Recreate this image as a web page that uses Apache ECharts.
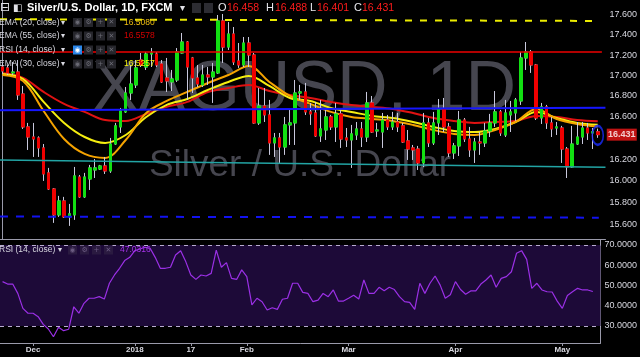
<!DOCTYPE html>
<html><head><meta charset="utf-8">
<script src="https://cdn.jsdelivr.net/npm/echarts@6/dist/echarts.min.js"></script>
<style>html,body{margin:0;padding:0;background:#000;}#c{width:640px;height:357px;}</style>
</head><body><div id="c"></div>
<script>
// ---------- data ----------
const dates = ['2017-11-23','2017-11-24','2017-11-27','2017-11-28','2017-11-29','2017-11-30',
'2017-12-01','2017-12-04','2017-12-05','2017-12-06','2017-12-07','2017-12-08','2017-12-11','2017-12-12','2017-12-13','2017-12-14','2017-12-15',
'2017-12-18','2017-12-19','2017-12-20','2017-12-21','2017-12-22','2017-12-26','2017-12-27','2017-12-28','2017-12-29',
'2018-01-02','2018-01-03','2018-01-04','2018-01-05','2018-01-08','2018-01-09','2018-01-10','2018-01-11','2018-01-12',
'2018-01-15','2018-01-16','2018-01-17','2018-01-18','2018-01-19','2018-01-22','2018-01-23','2018-01-24','2018-01-25','2018-01-26',
'2018-01-29','2018-01-30','2018-01-31','2018-02-01','2018-02-02','2018-02-05','2018-02-06','2018-02-07','2018-02-08','2018-02-09',
'2018-02-12','2018-02-13','2018-02-14','2018-02-15','2018-02-16','2018-02-19','2018-02-20','2018-02-21','2018-02-22','2018-02-23',
'2018-02-26','2018-02-27','2018-02-28','2018-03-01','2018-03-02','2018-03-05','2018-03-06','2018-03-07','2018-03-08','2018-03-09',
'2018-03-12','2018-03-13','2018-03-14','2018-03-15','2018-03-16','2018-03-19','2018-03-20','2018-03-21','2018-03-22','2018-03-23',
'2018-03-26','2018-03-27','2018-03-28','2018-03-29','2018-04-02','2018-04-03','2018-04-04','2018-04-05','2018-04-06',
'2018-04-09','2018-04-10','2018-04-11','2018-04-12','2018-04-13','2018-04-16','2018-04-17','2018-04-18','2018-04-19','2018-04-20',
'2018-04-23','2018-04-24','2018-04-25','2018-04-26','2018-04-27','2018-04-30','2018-05-01','2018-05-02','2018-05-03','2018-05-04',
'2018-05-07','2018-05-08','2018-05-09'];

const opens = [17.082,17.073,17.024,17.033,16.819,16.504,16.409,16.400,16.306,16.074,
15.926,15.691,15.817,15.673,15.691,16.036,15.854,16.018,16.101,16.110,
16.138,16.092,16.343,16.504,16.647,16.829,16.907,17.151,17.082,17.210,
17.210,17.112,16.975,16.936,16.955,17.220,17.329,17.171,16.975,16.907,
17.004,16.985,17.024,17.540,17.279,17.409,17.141,17.102,17.319,17.200,
16.542,16.704,16.618,16.353,16.400,16.315,16.523,16.542,16.829,16.839,
16.647,16.637,16.419,16.475,16.599,16.504,16.628,16.400,16.381,16.428,
16.485,16.409,16.733,16.466,16.456,16.570,16.504,16.551,16.514,16.372,
16.306,16.296,16.166,16.542,16.353,16.542,16.676,16.504,16.259,16.325,
16.570,16.390,16.287,16.362,16.353,16.466,16.542,16.647,16.428,16.618,
16.637,16.752,17.171,17.230,17.102,16.589,16.695,16.542,16.494,16.494,
16.296,16.129,16.343,16.409,16.494,16.447,16.458];

const highs = [17.122,17.102,17.131,17.151,16.897,16.542,16.542,16.415,16.343,16.120,
15.935,15.863,15.854,15.790,16.129,16.055,16.074,16.148,16.203,16.148,
16.222,16.400,16.542,16.685,16.887,17.102,17.151,17.220,17.230,17.269,
17.230,17.151,17.171,17.053,17.269,17.419,17.339,17.181,17.102,17.102,
17.082,17.122,17.600,17.610,17.529,17.479,17.319,17.379,17.379,17.220,
16.877,16.877,16.762,16.447,16.447,16.599,16.666,16.955,16.907,16.926,
16.733,16.743,16.762,16.666,16.618,16.733,16.666,16.494,16.523,16.551,
16.551,16.839,16.800,16.542,16.637,16.618,16.647,16.637,16.542,16.475,
16.334,16.325,16.637,16.589,16.647,16.771,16.781,16.542,16.353,16.656,
16.589,16.504,16.400,16.456,16.542,16.628,16.848,16.666,16.762,16.752,
16.781,17.230,17.329,17.250,17.112,16.733,16.714,16.599,16.551,16.514,
16.315,16.514,16.551,16.551,16.542,16.494,16.488];

const lows = [17.014,17.004,17.004,16.762,16.485,16.287,16.222,16.222,16.000,15.917,
15.619,15.673,15.664,15.592,15.646,15.845,15.845,15.917,16.027,16.101,
16.064,16.074,16.334,16.447,16.637,16.762,16.877,17.082,17.053,17.082,
17.082,16.926,16.839,16.848,16.936,17.215,16.762,16.829,16.887,16.887,
16.907,16.733,17.014,17.122,17.250,17.102,17.073,17.082,17.082,16.535,
16.523,16.551,16.241,16.222,16.166,16.241,16.334,16.334,16.762,16.618,
16.523,16.409,16.362,16.381,16.475,16.362,16.306,16.315,16.120,16.381,
16.315,16.362,16.447,16.409,16.306,16.475,16.475,16.456,16.353,16.194,
16.194,16.101,16.129,16.315,16.334,16.428,16.456,16.222,16.203,16.231,
16.362,16.222,16.166,16.241,16.315,16.409,16.504,16.419,16.409,16.456,
16.561,16.714,17.053,17.024,16.570,16.532,16.485,16.409,16.428,16.166,
16.027,16.120,16.334,16.343,16.381,16.296,16.401];

const closes = [17.043,17.024,17.033,16.810,16.504,16.409,16.390,16.306,16.064,15.926,
15.691,15.817,15.673,15.700,16.046,15.854,16.036,16.120,16.120,16.138,
16.092,16.343,16.514,16.656,16.829,16.916,17.073,17.102,17.210,17.220,
17.102,16.936,16.946,16.965,17.230,17.329,17.082,16.975,16.916,17.004,
16.985,17.033,17.540,17.279,17.409,17.131,17.102,17.319,17.200,16.542,
16.704,16.618,16.353,16.400,16.315,16.523,16.542,16.829,16.839,16.647,
16.628,16.419,16.485,16.599,16.504,16.628,16.390,16.381,16.438,16.485,
16.409,16.733,16.456,16.475,16.570,16.504,16.551,16.504,16.362,16.296,
16.287,16.166,16.542,16.353,16.542,16.676,16.504,16.259,16.325,16.570,
16.390,16.287,16.362,16.353,16.466,16.542,16.647,16.447,16.637,16.647,
16.762,17.171,17.230,17.102,16.589,16.695,16.542,16.485,16.504,16.296,
16.129,16.343,16.409,16.494,16.447,16.458,16.431];

const rsi = [51.9,50.7,50.7,46.1,38.7,36.3,36.3,34.6,30.8,28.5,
24.7,29.4,27.7,28.4,39.5,36.3,41.2,43.7,43.7,44.5,
43.3,51.1,55.2,58.5,62.3,63.9,67.2,68.0,68.9,68.4,
63.9,58.5,58.5,59.0,65.1,67.2,61.8,55.2,53.0,55.2,
54.7,56.0,67.5,59.0,61.3,53.5,53.0,57.7,54.4,40.4,
43.7,42.0,37.9,39.0,38.2,43.2,43.7,51.1,51.1,46.6,
46.1,42.0,42.8,46.1,44.5,47.8,42.3,42.3,43.7,45.2,
43.3,52.7,46.1,46.1,49.1,47.4,49.1,48.0,44.5,42.0,
41.7,38.2,51.1,46.1,51.1,54.7,50.2,43.7,45.4,51.9,
48.0,45.7,47.3,47.3,50.7,52.7,55.2,49.1,53.5,54.4,
56.8,65.9,67.2,62.9,48.6,51.1,47.8,46.9,46.8,42.3,
38.7,45.1,46.9,48.6,47.8,47.8,47.0316];

// EMA readings (sampled every 4 bars)
const emaIdx = [0,4,8,12,16,20,24,28,32,36,40,44,48,52,56,60,64,68,72,76,80,84,88,92,96,100,104,108,112,116];
const ema20 = [17.004,16.946,16.656,16.390,16.250,16.213,16.381,16.637,16.752,16.839,16.926,17.004,17.092,16.936,16.800,16.724,16.647,16.599,16.580,16.561,16.523,16.475,16.438,16.428,16.475,16.551,16.676,16.580,16.532,16.5080];
const ema30 = [17.014,16.965,16.743,16.542,16.409,16.353,16.428,16.599,16.714,16.771,16.858,16.936,16.995,16.897,16.781,16.752,16.685,16.647,16.609,16.589,16.551,16.504,16.466,16.456,16.485,16.551,16.647,16.589,16.542,16.5257];
const ema55 = [17.024,16.975,16.839,16.724,16.647,16.570,16.561,16.628,16.695,16.743,16.839,16.877,16.907,16.848,16.810,16.781,16.743,16.714,16.695,16.676,16.637,16.589,16.561,16.542,16.551,16.561,16.609,16.599,16.570,16.5578];

// drawn levels: [bar position start, end] and [price start, end]
const yellowDashX = [-0.5, 116.2], yellowDashY = [17.557, 17.540];
const redLevelX = [-0.5, 116.8],   redLevelY = [17.230, 17.230];
const blueLevelX = [-0.5, 117.5],  blueLevelY = [16.663, 16.688];
const tealLevelX = [-0.5, 117.5],  tealLevelY = [16.194, 16.127];
const blueDashX = [-0.5, 116.2],   blueDashY = [15.676, 15.666];
const circleMark = [116, 16.424];

const priceTicks = [15.6,15.8,16.0,16.2,16.6,16.8,17.0,17.2,17.4,17.6];
const rsiTicks = [30,40,50,60,70];
const tickDates = ['2017-12-01','2018-01-02','2018-01-17','2018-02-01','2018-03-01','2018-04-02','2018-05-01'];
const tickLabels = ['Dec','2018','17','Feb','Mar','Apr','May'];

// ---------- chart ----------
const L = Math.log;
const N = dates.length;
const FF = '"Liberation Sans", Arial, sans-serif';
const AX = '#9a9aaa';
const UP = '#12e012', DOWN = '#f00000', WICK = '#c8c8dc';
const last = N - 1;

const chart = echarts.init(document.getElementById('c'), null, {renderer:'canvas', width:640, height:357});

const wickData = dates.map((d,i)=>[L(opens[i]), L(closes[i]), L(lows[i]), L(highs[i])]);
const bodyData = dates.map((d,i)=>[L(opens[i]), L(closes[i]), L(Math.min(opens[i],closes[i])), L(Math.max(opens[i],closes[i]))]);
const emaSeries = (vals, color) => ({
  type:'line', xAxisIndex:2, yAxisIndex:0, z:2, silent:true, showSymbol:false, smooth:0.35,
  data: emaIdx.map((x,k)=>[x, L(vals[k])]), lineStyle:{color, width:2}
});
const levelSeries = (xs, ys, color, width, type) => ({
  type:'line', xAxisIndex:2, yAxisIndex:0, z:5, silent:true, showSymbol:false,
  data: xs.map((x,k)=>[x, L(ys[k])]), lineStyle:{color, width, type}
});
const tickFn = (i, v) => tickDates.indexOf(v) >= 0;

// legend graphics
const T = (x, y, text, fill, font, extra) => Object.assign({type:'text', x, y, z:100, silent:true,
  style:{text, fill, font, verticalAlign:'middle'}}, extra || {});
const R = (x, y, w, h, fill) => ({type:'rect', z:100, silent:true, shape:{x, y, width:w, height:h}, style:{fill}});
const SF = '8.5px ' + FF;
const g = [];
// watermark
g.push({type:'text', x:304, y:91, z:-1, silent:true, style:{text:'XAGUSD, 1D', fill:'#46464f', font:'70px ' + FF, align:'center', verticalAlign:'middle'}});
g.push({type:'text', x:300, y:165.5, z:-1, silent:true, style:{text:'Silver / U.S. Dollar', fill:'#46464f', font:'37px ' + FF, align:'center', verticalAlign:'middle'}});
// header row
g.push(T(0, 8, '⊟', '#e0e0e6', '12px "DejaVu Sans"'));
g.push(T(13, 8, '◧', '#e0e0e6', '10px "DejaVu Sans"'));
g.push(T(27, 8, 'Silver/U.S. Dollar, 1D, FXCM', '#ffffff', 'bold 11px ' + FF));
g.push(T(180, 8, '▾', '#e0e0e6', '10px "DejaVu Sans"'));
g.push(R(192, 3, 9, 10, '#2c2c32'), R(204, 3, 9, 10, '#2c2c32'));
const ohlc = [['O', opens[last], 218, 227], ['H', highs[last], 266, 275], ['L', lows[last], 310, 317], ['C', closes[last], 354, 362]];
ohlc.forEach(([k, v, xk, xv]) => { g.push(T(xk, 8, k, '#e8e8ee', '11px ' + FF)); g.push(T(xv, 8, v.toFixed(3), '#ff1c1c', '10.5px ' + FF)); });
// indicator rows
const rows = [['EMA (20, close)', ema20[ema20.length-1].toFixed(4), '#efbf10', 22.5],
              ['EMA (55, close)', ema55[ema55.length-1].toFixed(4), '#d40000', 36],
              ['RSI (14, close)', '', '', 50],
              ['EMA (30, close)', ema30[ema30.length-1].toFixed(4), '#f2f20a', 64]];
const icons = (y, firstBlue) => {
  [73, 84, 96, 107].forEach((x, k) => {
    g.push(R(x, y - 4.5, 9, 9, (firstBlue && k === 0) ? '#2b86e8' : '#26262c'));
    g.push(T(x + 1.5, y, ['◉','⚙','+','✕'][k], (firstBlue && k === 0) ? '#ffffff' : '#6a6a74', '7px "DejaVu Sans"'));
  });
};
rows.forEach(([name, val, col, y], r) => {
  g.push(T(-1, y, name, '#d8d8e0', SF));
  g.push(T(61, y, '▾', '#d8d8e0', '8px "DejaVu Sans"'));
  icons(y, r === 2);
  if (val) g.push(T(124, y, val, col, SF));
});
// RSI pane legend
g.push(T(-1, 250, 'RSI (14, close)', '#d8d8e0', SF));
g.push(T(58, 250, '▾', '#d8d8e0', '8px "DejaVu Sans"'));
[68, 80, 92, 104].forEach((x, k) => {
  g.push(R(x, 245.5, 9, 9, '#2a1a40'));
  g.push(T(x + 1.5, 250, ['◉','⚙','+','✕'][k], '#6a5a80', '7px "DejaVu Sans"'));
});
g.push(T(120, 250, rsi[last].toFixed(4), '#a533e8', SF));

const option = {
  backgroundColor:'#000000',
  animation:false,
  textStyle:{fontFamily:FF},
  graphic: g,
  grid:[{left:-1.95, right:31.2, top:0, height:239},
        {left:-1.95, right:31.2, top:240, height:103}],
  xAxis:[
    {type:'category', gridIndex:0, data:dates, max:N, boundaryGap:true,
     axisLine:{show:true, lineStyle:{color:AX, width:1}}, axisTick:{show:false}, axisLabel:{show:false}, splitLine:{show:false}},
    {type:'category', gridIndex:1, data:dates, max:N, boundaryGap:true,
     axisLine:{show:true, lineStyle:{color:AX, width:1}},
     axisTick:{show:true, alignWithLabel:true, interval:tickFn, length:3, lineStyle:{color:AX}},
     axisLabel:{interval:tickFn, formatter:v => tickLabels[tickDates.indexOf(v)] || '', color:'#d8d8e0', fontSize:8, fontWeight:'bold', margin:3, fontFamily:FF},
     splitLine:{show:false}},
    {type:'value', gridIndex:0, min:-0.5, max:N + 0.5, show:false}
  ],
  yAxis:[
    {type:'value', gridIndex:0, position:'right', min:L(15.4751), max:L(17.7523),
     axisLine:{show:true, lineStyle:{color:AX}}, axisTick:{show:false}, splitLine:{show:false},
     axisLabel:{customValues:priceTicks.map(L), formatter:v => Math.exp(v).toFixed(3), color:'#d8d8e0', fontSize:9, margin:4, fontFamily:FF}},
    {type:'value', gridIndex:1, position:'right', min:21.6, max:72.47,
     axisLine:{show:true, lineStyle:{color:AX}}, axisTick:{show:false}, splitLine:{show:false},
     axisLabel:{customValues:rsiTicks, formatter:v => v.toFixed(4), color:'#d8d8e0', fontSize:9, margin:4, fontFamily:FF}}
  ],
  series:[
    emaSeries(ema55, '#e01212'),
    emaSeries(ema30, '#f5ee10'),
    emaSeries(ema20, '#f5a300'),
    {type:'candlestick', xAxisIndex:0, yAxisIndex:0, z:3, silent:true, barWidth:3, data:wickData,
     itemStyle:{color:'rgba(0,0,0,0)', color0:'rgba(0,0,0,0)', borderColor:WICK, borderColor0:WICK, borderWidth:1}},
    {type:'candlestick', xAxisIndex:0, yAxisIndex:0, z:4, silent:true, barWidth:3, data:bodyData,
     itemStyle:{color:UP, color0:DOWN, borderColor:UP, borderColor0:DOWN, borderWidth:1}},
    levelSeries(yellowDashX, yellowDashY, '#ecec00', 2, [7, 8]),
    levelSeries(redLevelX, redLevelY, '#ee0000', 1.5, 'solid'),
    levelSeries(blueLevelX, blueLevelY, '#1616ff', 2, 'solid'),
    levelSeries(tealLevelX, tealLevelY, '#22a4a4', 1.5, 'solid'),
    levelSeries(blueDashX, blueDashY, '#1212f0', 2, [8, 8]),
    {type:'scatter', xAxisIndex:2, yAxisIndex:0, z:6, silent:true, clip:false,
     data:[[circleMark[0], L(circleMark[1])]], symbol:'circle', symbolSize:[11, 19],
     itemStyle:{color:'rgba(0,0,0,0)', borderColor:'#1a2cff', borderWidth:2}},
    {type:'scatter', xAxisIndex:2, yAxisIndex:0, z:7, silent:true, clip:false,
     data:[[last, L(closes[last])]], symbol:'rect', symbolSize:[30, 12], symbolOffset:[24, 0],
     itemStyle:{color:'#f01818'},
     label:{show:true, position:'inside', formatter:() => closes[last].toFixed(3), color:'#ffffff', fontSize:9, fontWeight:'bold', fontFamily:FF}},
    {type:'line', xAxisIndex:1, yAxisIndex:1, z:3, silent:true, showSymbol:false, data:rsi,
     lineStyle:{color:'#9b30e6', width:1.2},
     markArea:{silent:true, itemStyle:{color:'#1d0a38'}, data:[[{yAxis:30}, {yAxis:70}]]},
     markLine:{silent:true, symbol:['none','none'], label:{show:false}, lineStyle:{color:'#b9acd0', type:[4,4], width:1}, data:[{yAxis:70}, {yAxis:30}]}}
  ]
};
chart.setOption(option);
</script></body></html>
